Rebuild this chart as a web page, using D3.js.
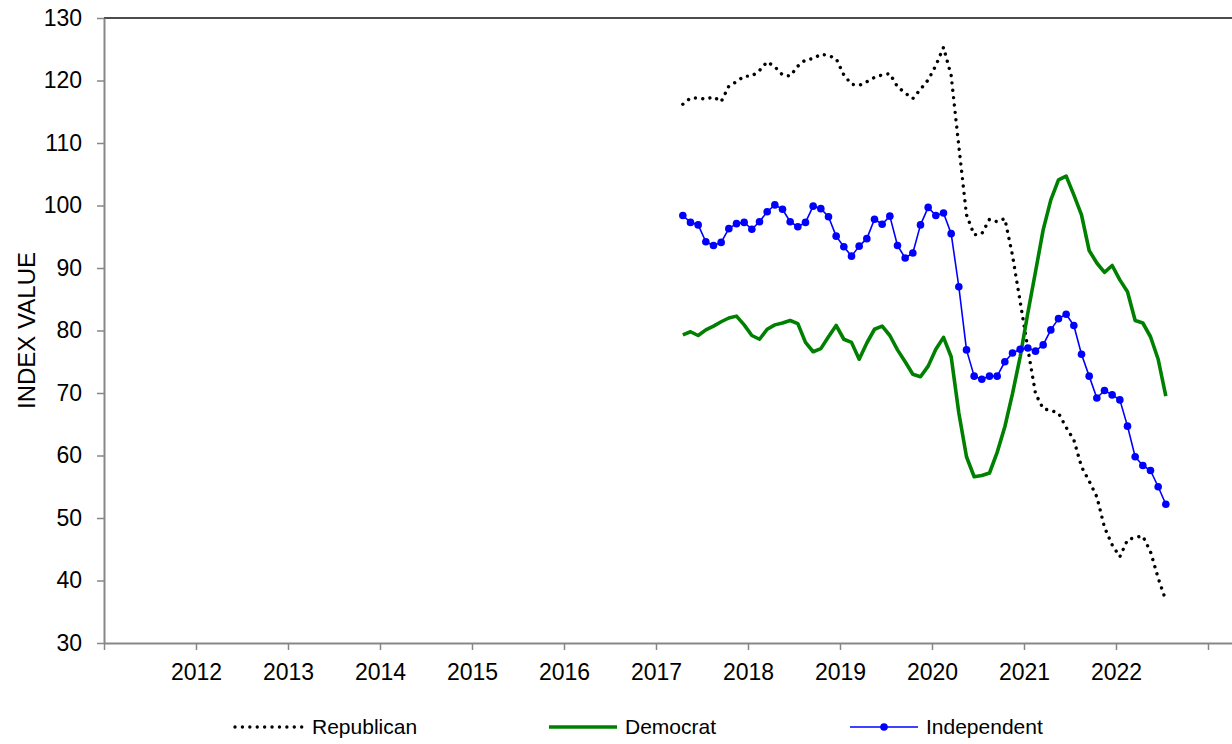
<!DOCTYPE html>
<html>
<head>
<meta charset="utf-8">
<script src="https://cdn.jsdelivr.net/npm/d3@7"></script>
<style>
    body { margin: 0; background: #fff; }
    svg { display: block; font-family: "Liberation Sans", Arial, sans-serif; }
    .axis path, .axis line { stroke: #878787; }
    .axis text { fill: #000; font-size: 23px; }
</style>
</head>
<body>
<div id="chart"></div>
<script>
// Monthly index values, April 2017 .. July 2022
const startMonth = new Date(2017, 3, 1);
const monthCount = 64;

const republican = [
    116.2, 117.2, 117.2, 117.0, 117.4, 116.6, 119.1, 119.8, 120.7, 120.7,
    121.6, 123.0, 122.2, 120.9, 120.7, 122.3, 123.3, 123.5, 124.2, 124.0,
    123.5, 120.9, 119.4, 119.2, 119.8, 120.5, 120.9, 121.1, 119.0, 118.0,
    117.1, 118.6, 120.1, 122.4, 125.3, 120.8, 109.5, 98.5, 95.3, 95.5,
    97.8, 97.4, 97.9, 92.0, 84.6, 77.1, 69.9, 67.5, 67.2, 66.8,
    64.5, 62.5, 58.2, 55.9, 53.4, 48.5, 45.7, 43.8, 46.5, 46.9,
    47.1, 44.6, 40.4, 36.8
];

const democrat = [
    79.3, 79.8, 79.2, 80.1, 80.7, 81.4, 82.0, 82.3, 80.9, 79.2,
    78.6, 80.2, 80.9, 81.2, 81.6, 81.1, 78.1, 76.6, 77.1, 79.0,
    80.8, 78.6, 78.1, 75.4, 78.0, 80.2, 80.7, 79.2, 76.9, 75.0,
    73.0, 72.6, 74.3, 77.0, 78.9, 75.8, 66.8, 59.8, 56.6, 56.8,
    57.2, 60.5, 64.6, 69.9, 75.8, 82.8, 89.4, 96.1, 100.9, 104.1,
    104.7, 101.7, 98.5, 92.8, 90.8, 89.3, 90.4, 88.1, 86.2, 81.6,
    81.2, 79.0, 75.4, 69.5
];

const independent = [
    98.4, 97.3, 96.9, 94.2, 93.6, 94.1, 96.3, 97.1, 97.3, 96.2,
    97.4, 99.0, 100.1, 99.4, 97.4, 96.6, 97.3, 99.9, 99.5, 98.2,
    95.1, 93.4, 91.9, 93.5, 94.7, 97.8, 97.0, 98.3, 93.6, 91.6,
    92.4, 96.9, 99.7, 98.4, 98.8, 95.5, 87.0, 76.9, 72.7, 72.2,
    72.7, 72.7, 75.0, 76.4, 77.0, 77.2, 76.7, 77.7, 80.1, 81.9,
    82.6, 80.8, 76.2, 72.7, 69.2, 70.4, 69.7, 68.9, 64.7, 59.8,
    58.4, 57.6, 55.0, 52.2
];

const yearTicks = d3.range(2011, 2024);
const yTicks = d3.range(30, 131, 10);

const width = 1232, height = 744;
const plot = { left: 104, right: 1232, top: 18, bottom: 643 };

const svg = d3.select("#chart").append("svg")
    .attr("width", width)
    .attr("height", height);

// months plotted mid-month on a decimal-year axis
const months = d3.timeMonth.range(startMonth, d3.timeMonth.offset(startMonth, monthCount));
const toYear = d => d.getFullYear() + (d.getMonth() + 0.5) / 12;

const x = d3.scaleLinear()
    .domain([2011, 2023 + (plot.right - 1208) / 92])
    .range([plot.left, plot.right]);

const y = d3.scaleLinear()
    .domain([30, 130])
    .range([plot.bottom, plot.top]);

// top frame line
svg.append("line")
    .attr("x1", plot.left).attr("x2", plot.right)
    .attr("y1", plot.top).attr("y2", plot.top)
    .attr("stroke", "#111")
    .attr("stroke-width", 1.6);

// axes
svg.append("g")
    .attr("class", "axis")
    .attr("transform", `translate(0,${plot.bottom})`)
    .call(d3.axisBottom(x)
        .tickValues(yearTicks)
        .tickSize(7)
        .tickSizeOuter(0)
        .tickPadding(14)
        .tickFormat(d => (d === 2011 || d === 2023) ? "" : d))
    .call(g => g.select(".domain").attr("stroke-width", 2))
    .call(g => g.selectAll(".tick line").attr("stroke-width", 1.5));

svg.append("g")
    .attr("class", "axis")
    .attr("transform", `translate(${plot.left},0)`)
    .call(d3.axisLeft(y)
        .tickValues(yTicks)
        .tickSize(7)
        .tickSizeOuter(0)
        .tickPadding(15))
    .call(g => g.select(".domain").attr("stroke-width", 2))
    .call(g => g.selectAll(".tick line").attr("stroke-width", 1.5));

svg.append("text")
    .attr("transform", `translate(35,${(plot.top + plot.bottom) / 2}) rotate(-90)`)
    .attr("text-anchor", "middle")
    .style("font-size", "24px")
    .text("INDEX VALUE");

// series
const series = [
    { name: "Republican", values: republican, color: "#000", width: 3.4, dash: "0.01 7.4", cap: "round" },
    { name: "Democrat", values: democrat, color: "#008000", width: 3.6, dash: null, cap: "butt" },
    { name: "Independent", values: independent, color: "#0000ff", width: 1.6, dash: null, cap: "butt", marker: true }
];

const line = d3.line()
    .x((d, i) => x(toYear(months[i])))
    .y(d => y(d));

series.forEach(s => {
    svg.append("path")
        .datum(s.values)
        .attr("fill", "none")
        .attr("stroke", s.color)
        .attr("stroke-width", s.width)
        .attr("stroke-linecap", s.cap)
        .attr("stroke-linejoin", "round")
        .attr("stroke-dasharray", s.dash)
        .attr("d", line);

    if (s.marker) {
        svg.append("g")
            .selectAll("circle")
            .data(s.values)
            .join("circle")
            .attr("cx", (d, i) => x(toYear(months[i])))
            .attr("cy", d => y(d))
            .attr("r", 3.8)
            .attr("fill", s.color);
    }
});

// legend
const legendX = [235, 549, 850];
const legendY = 727;
const legend = svg.append("g");

series.forEach((s, i) => {
    const g = legend.append("g").attr("transform", `translate(${legendX[i]},${legendY})`);
    g.append("line")
        .attr("x1", 0).attr("x2", s.dash ? 70 : 68)
        .attr("stroke", s.color)
        .attr("stroke-width", s.width)
        .attr("stroke-linecap", s.cap)
        .attr("stroke-dasharray", s.dash);
    if (s.marker) {
        g.append("circle").attr("cx", 34).attr("r", 3.8).attr("fill", s.color);
    }
    g.append("text")
        .attr("x", i === 0 ? 77 : 76)
        .attr("dy", "0.35em")
        .style("font-size", "21px")
        .text(s.name);
});
</script>
</body>
</html>
